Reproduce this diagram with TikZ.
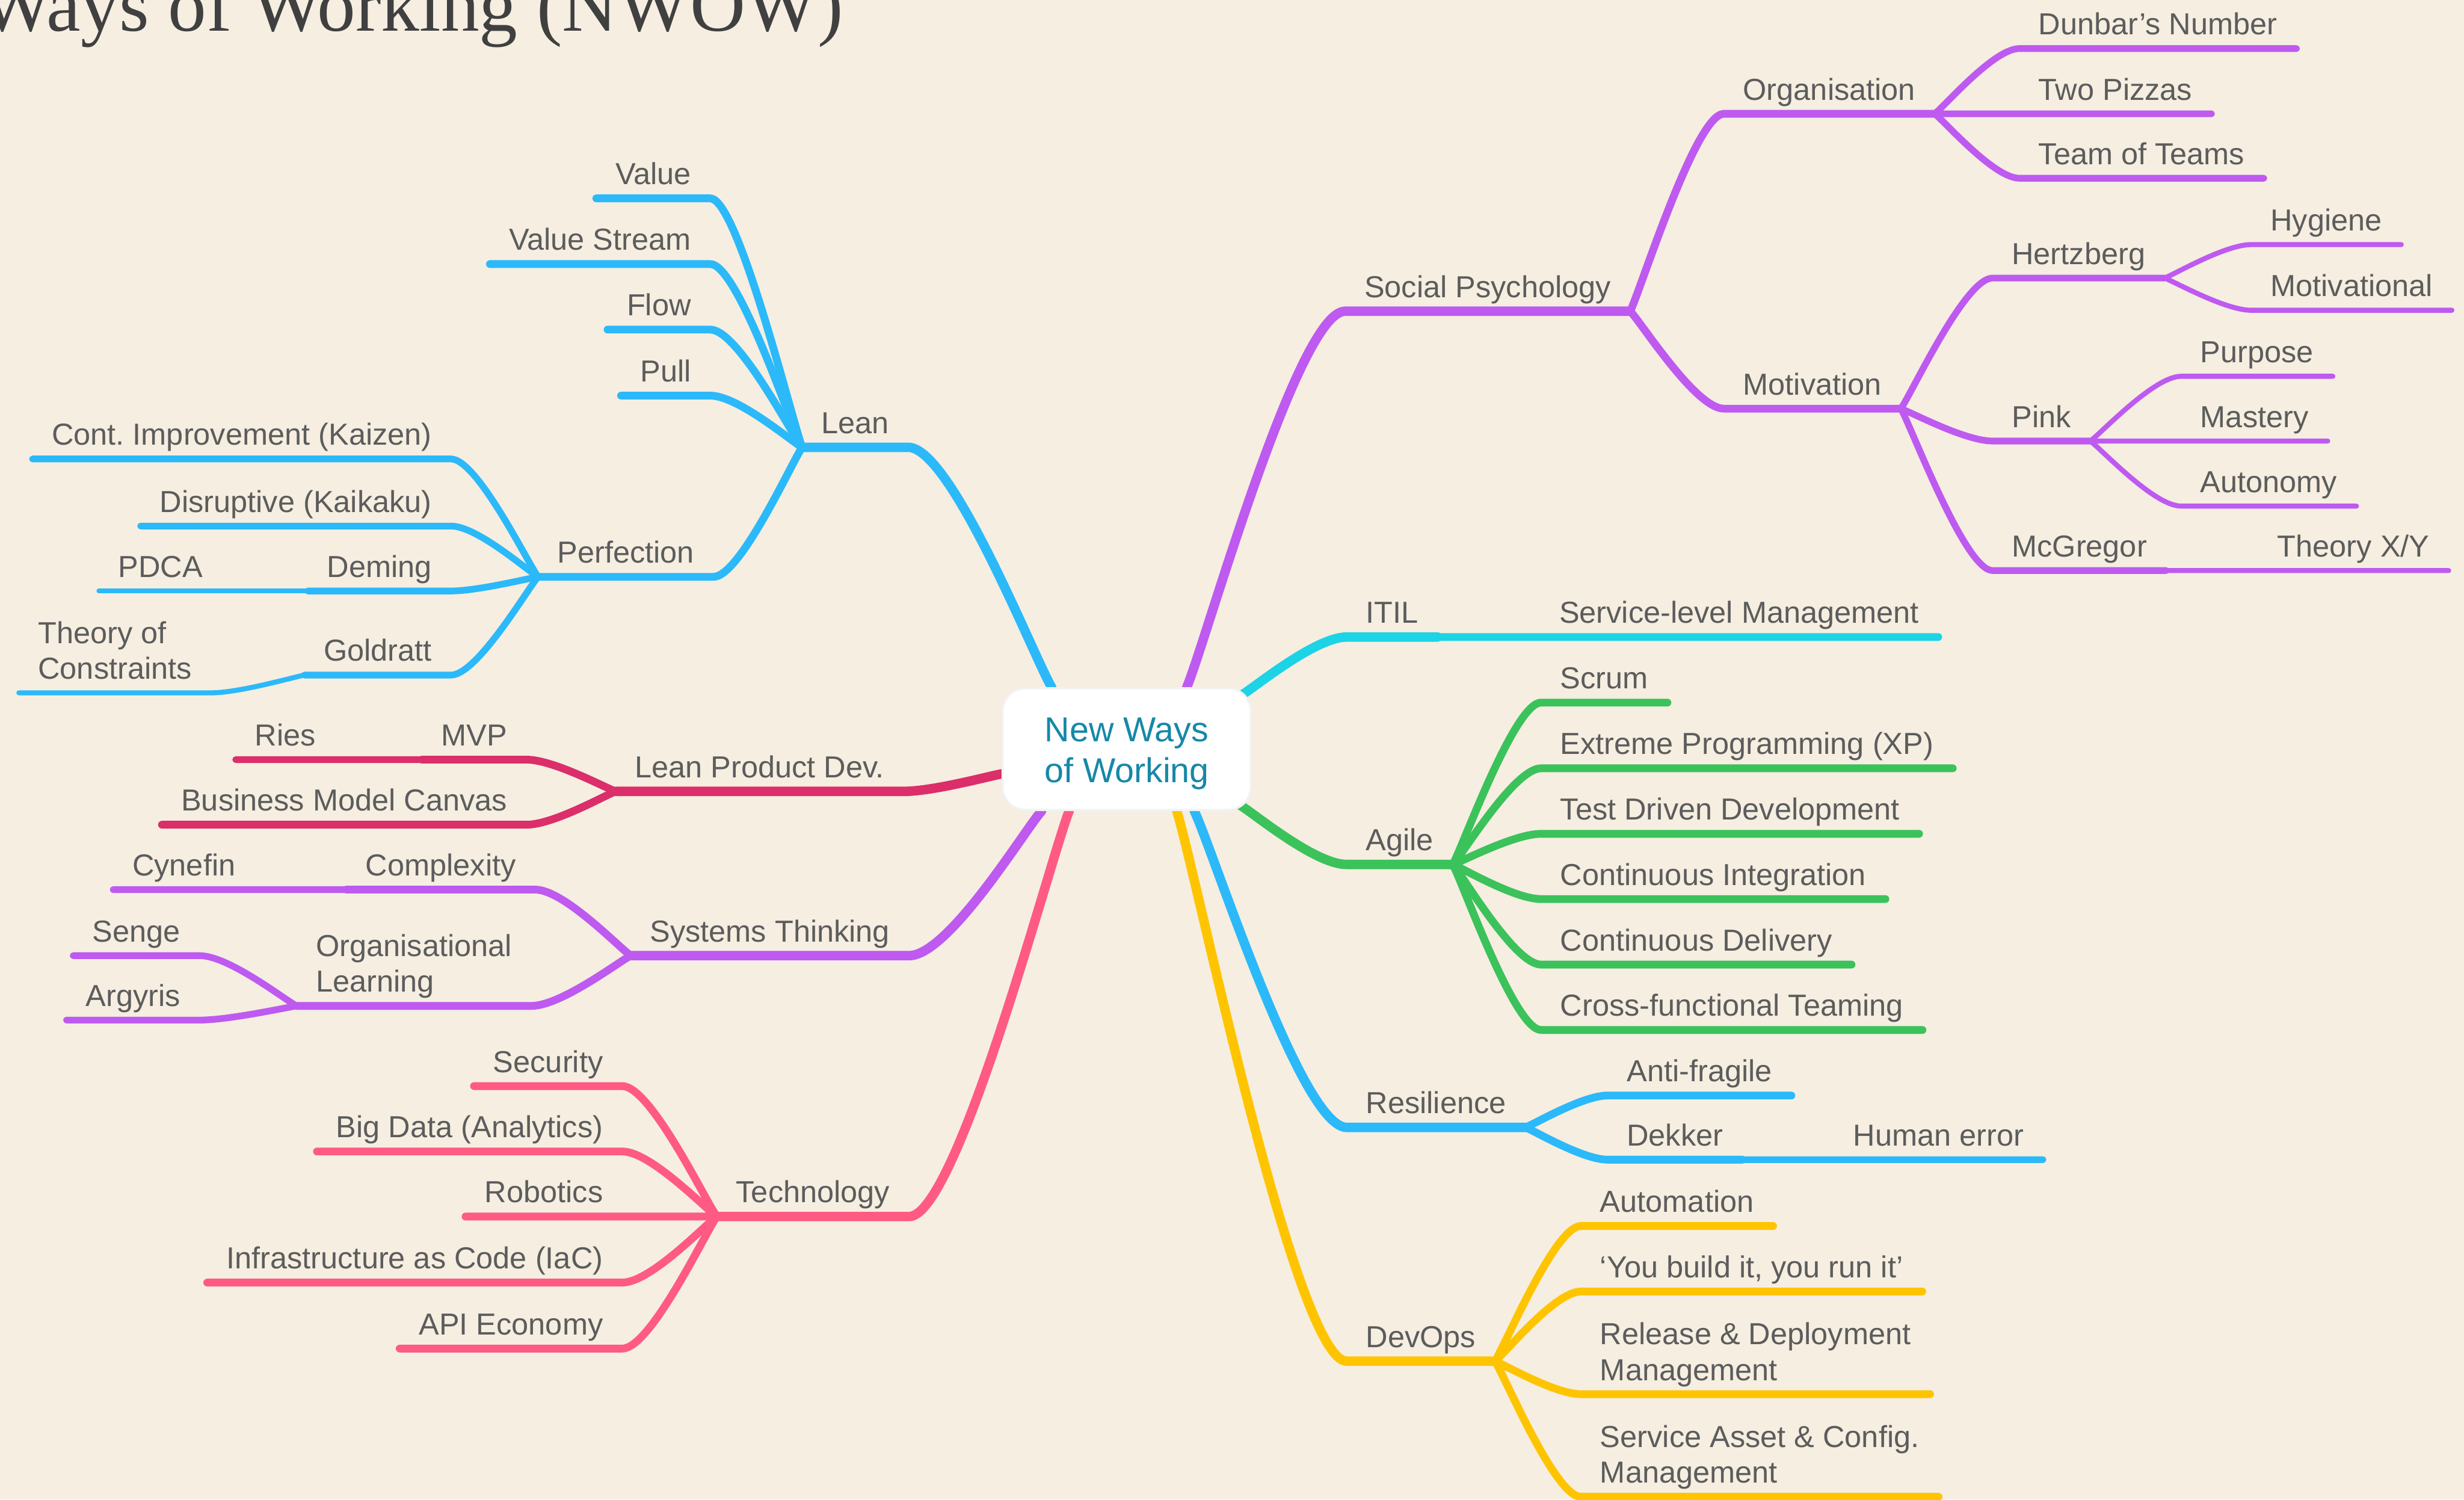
\documentclass[tikz,border=0pt]{standalone}
\usepackage{fontspec}
\usepackage{xcolor}
\usetikzlibrary{calc}

\newfontfamily\mapsans{Liberation Sans}
\newfontfamily\mapserif{Liberation Serif}
\frenchspacing

\definecolor{bgcream}{HTML}{F5EEE1}
\definecolor{txtgray}{HTML}{5C5C5C}
\definecolor{titlegray}{HTML}{404040}
\definecolor{rootteal}{HTML}{1688A8}
\definecolor{lnBlue}{HTML}{2BB9FA}
\definecolor{lnPurple}{HTML}{BE5AF0}
\definecolor{lnCyan}{HTML}{1DD3E6}
\definecolor{lnGreen}{HTML}{3BC25B}
\definecolor{lnYellow}{HTML}{FFC400}
\definecolor{lnCrimson}{HTML}{DB2E6A}
\definecolor{lnPink}{HTML}{FF5A84}

\pgfdeclarelayer{background}
\pgfsetlayers{background,main}

\tikzset{
  topic/.style={font=\mapsans\fontsize{14.5pt}{17pt}\selectfont, text=txtgray, inner xsep=9pt, inner ysep=6.4pt, text depth=0pt},
  twolines/.style={align=left},
  root/.style={rectangle, rounded corners=11pt, fill=white, draw=black!5, line width=1pt, minimum width=118.5pt, minimum height=58.1pt, align=center, text height=32.1pt, text depth=0pt, font=\mapsans\fontsize{16.5pt}{19.6pt}\selectfont, text=rootteal},
  title/.style={font=\mapserif\fontsize{36.6pt}{40pt}\selectfont, text=titlegray, inner sep=0pt},
  lw1/.style={line width=4.5pt, line cap=round, line join=round},
  lw2/.style={line width=3.7pt, line cap=round, line join=round},
  lw3/.style={line width=3.2pt, line cap=round, line join=round},
  lw4/.style={line width=2.4pt, line cap=round, line join=round},
  branch/.style={to path={.. controls ($(\tikztostart)!0.12!(\tikztotarget)$) and ($(\tikztotarget)!0.3!(\tikztostart|-\tikztotarget)$) .. (\tikztotarget) \tikztonodes}}
}

\begin{document}
\begin{tikzpicture}[x=0.75pt,y=0.75pt,yscale=-1,xscale=1]
\useasboundingbox (0,0) rectangle (1568,954);
\clip (0,0) rectangle (1568,954);

% Title
\node [title, anchor=base east] (title) at (537,19.7) {Ways of Working (NWOW)};

% Root
\node [root] (root) at (717,476.6) {New Ways\\of Working};
\coordinate (o-lean) at ($(root.north west)!0.20!(root.north east)$);
\coordinate (o-social) at ($(root.north west)!0.74!(root.north east)$);
\coordinate (o-itil) at ($(root.north east)+(-8,6)$);
\coordinate (o-agile) at ($(root.south east)+(-8,-4)$);
\coordinate (o-res) at ($(root.south west)!0.77!(root.south east)$);
\coordinate (o-devops) at ($(root.south west)!0.70!(root.south east)$);
\coordinate (o-tech) at ($(root.south west)!0.27!(root.south east)$);
\coordinate (o-systems) at ($(root.south west)!0.16!(root.south east)$);
\coordinate (o-lpd) at ($(root.north west)!0.70!(root.south west)$);

% Text Node: Lean
\node [topic, anchor=south east] (lean) at (578,284.6) {Lean};
\node [topic, anchor=south east] (value) at (452,126.2) {Value};
\node [topic, anchor=south east] (valuestream) at (452,168) {Value Stream};
\node [topic, anchor=south east] (flow) at (452,209.7) {Flow};
\node [topic, anchor=south east] (pull) at (452,251.7) {Pull};
\node [topic, anchor=south east] (perfection) at (454,367) {Perfection};
\node [topic, anchor=south east] (kaizen) at (287,292) {Cont. Improvement (Kaizen)};
\node [topic, anchor=south east] (kaikaku) at (287,334.7) {Disruptive (Kaikaku)};
\node [topic, anchor=south east] (deming) at (287,376) {Deming};
\node [topic, anchor=south west] (pdca) at (63,376) {PDCA};
\node [topic, anchor=south east] (goldratt) at (287,429.5) {Goldratt};
\node [topic, twolines, anchor=south west] (toc) at (12,440.8) {Theory of\\Constraints};

% Text Node: Lean Product Dev.
\node [topic, anchor=south east] (lpd) at (575,503.5) {Lean Product Dev.};
\node [topic, anchor=south east] (mvp) at (335,483.3) {MVP};
\node [topic, anchor=south west] (ries) at (150,483.3) {Ries};
\node [topic, anchor=south east] (bmc) at (335,524.7) {Business Model Canvas};

% Text Node: Systems Thinking
\node [topic, anchor=south east] (systems) at (578.5,608) {Systems Thinking};
\node [topic, anchor=south east] (complexity) at (340.6,566) {Complexity};
\node [topic, anchor=south west] (cynefin) at (72,566) {Cynefin};
\node [topic, twolines, anchor=south east] (orglearn) at (338,640) {Organisational\\Learning};
\node [topic, anchor=south east] (senge) at (127,608) {Senge};
\node [topic, anchor=south east] (argyris) at (127,649) {Argyris};

% Text Node: Technology
\node [topic, anchor=south east] (technology) at (578.5,774) {Technology};
\node [topic, anchor=south east] (security) at (396,691) {Security};
\node [topic, anchor=south east] (bigdata) at (396,732.6) {Big Data (Analytics)};
\node [topic, anchor=south east] (robotics) at (396,774) {Robotics};
\node [topic, anchor=south east] (iac) at (396,816) {Infrastructure as Code (IaC)};
\node [topic, anchor=south east] (api) at (396,858) {API Economy};

% Text Node: Social Psychology
\node [topic, anchor=south west] (social) at (856,198) {Social Psychology};
\node [topic, anchor=south west] (organisation) at (1097,72.4) {Organisation};
\node [topic, anchor=south west] (dunbar) at (1285,30.9) {Dunbar’s Number};
\node [topic, anchor=south west] (pizzas) at (1285,72.4) {Two Pizzas};
\node [topic, anchor=south west] (teams) at (1285,113.4) {Team of Teams};
\node [topic, anchor=south west] (motivation) at (1097,260) {Motivation};
\node [topic, anchor=south west] (hertzberg) at (1268,176.9) {Hertzberg};
\node [topic, anchor=south west] (hygiene) at (1432.6,155.6) {Hygiene};
\node [topic, anchor=south west] (motivational) at (1432.6,197.4) {Motivational};
\node [topic, anchor=south west] (pink) at (1268,280.6) {Pink};
\node [topic, anchor=south west] (purpose) at (1388,239.4) {Purpose};
\node [topic, anchor=south west] (mastery) at (1388,280.6) {Mastery};
\node [topic, anchor=south west] (autonomy) at (1388,322) {Autonomy};
\node [topic, anchor=south west] (mcgregor) at (1268,363) {McGregor};
\node [topic, anchor=south west] (theoryxy) at (1437,363) {Theory X/Y};

% Text Node: ITIL
\node [topic, anchor=south west] (itil) at (857,405.3) {ITIL};
\node [topic, anchor=south west] (slm) at (980,405.3) {Service-level Management};

% Text Node: Agile
\node [topic, anchor=south west] (agile) at (857,550) {Agile};
\node [topic, anchor=south west] (scrum) at (980.7,447) {Scrum};
\node [topic, anchor=south west] (xp) at (980.7,488.8) {Extreme Programming (XP)};
\node [topic, anchor=south west] (tdd) at (980.7,530.5) {Test Driven Development};
\node [topic, anchor=south west] (ci) at (980.7,572) {Continuous Integration};
\node [topic, anchor=south west] (cd) at (980.7,613.7) {Continuous Delivery};
\node [topic, anchor=south west] (cft) at (980.7,655.3) {Cross-functional Teaming};

% Text Node: Resilience
\node [topic, anchor=south west] (resilience) at (857,717.3) {Resilience};
\node [topic, anchor=south west] (antifragile) at (1023,697) {Anti-fragile};
\node [topic, anchor=south west] (dekker) at (1023,737.8) {Dekker};
\node [topic, anchor=south west] (humanerror) at (1167,737.8) {Human error};

% Text Node: DevOps
\node [topic, anchor=south west] (devops) at (857,866) {DevOps};
\node [topic, anchor=south west] (automation) at (1006,780) {Automation};
\node [topic, anchor=south west] (ybiyri) at (1006,821.7) {‘You build it, you run it’};
\node [topic, twolines, anchor=south west] (reldep) at (1006,887) {Release \& Deployment\\Management};
\node [topic, twolines, anchor=south west] (sacm) at (1006,952.3) {Service Asset \& Config.\\Management};

\begin{pgfonlayer}{background}
\clip (0,0) rectangle (1568,954);
\fill [bgcream] (0,0) rectangle (1568,954);

%Curve Lines: Lean
\draw [lnBlue, lw1] (o-lean) to[branch] (lean.south east) -- (lean.south west);
\draw [lnBlue, lw2] (lean.south west) to[branch] (value.south east) -- (value.south west);
\draw [lnBlue, lw2] (lean.south west) to[branch] (valuestream.south east) -- (valuestream.south west);
\draw [lnBlue, lw2] (lean.south west) to[branch] (flow.south east) -- (flow.south west);
\draw [lnBlue, lw2] (lean.south west) to[branch] (pull.south east) -- (pull.south west);
\draw [lnBlue, lw2] (lean.south west) to[branch] (perfection.south east) -- (perfection.south west);
\draw [lnBlue, lw3] (perfection.south west) to[branch] (kaizen.south east) -- (kaizen.south west);
\draw [lnBlue, lw3] (perfection.south west) to[branch] (kaikaku.south east) -- (kaikaku.south west);
\draw [lnBlue, lw3] (perfection.south west) to[branch] (deming.south east) -- (deming.south west);
\draw [lnBlue, lw3] (perfection.south west) to[branch] (goldratt.south east) -- (goldratt.south west);
\draw [lnBlue, lw4] (deming.south west) to[branch] (pdca.south east) -- (pdca.south west);
\draw [lnBlue, lw4] (goldratt.south west) to[branch] (toc.south east) -- (toc.south west);

%Curve Lines: Lean Product Dev.
\draw [lnCrimson, lw1] (o-lpd) to[branch] (lpd.south east) -- (lpd.south west);
\draw [lnCrimson, lw2] (lpd.south west) to[branch] (mvp.south east) -- (mvp.south west);
\draw [lnCrimson, lw2] (lpd.south west) to[branch] (bmc.south east) -- (bmc.south west);
\draw [lnCrimson, lw3] (mvp.south west) to[branch] (ries.south east) -- (ries.south west);

%Curve Lines: Systems Thinking
\draw [lnPurple, lw1] (o-systems) to[branch] (systems.south east) -- (systems.south west);
\draw [lnPurple, lw2] (systems.south west) to[branch] (complexity.south east) -- (complexity.south west);
\draw [lnPurple, lw2] (systems.south west) to[branch] (orglearn.south east) -- (orglearn.south west);
\draw [lnPurple, lw3] (complexity.south west) to[branch] (cynefin.south east) -- (cynefin.south west);
\draw [lnPurple, lw3] (orglearn.south west) to[branch] (senge.south east) -- (senge.south west);
\draw [lnPurple, lw3] (orglearn.south west) to[branch] (argyris.south east) -- (argyris.south west);

%Curve Lines: Technology
\draw [lnPink, lw1] (o-tech) to[branch] (technology.south east) -- (technology.south west);
\draw [lnPink, lw2] (technology.south west) to[branch] (security.south east) -- (security.south west);
\draw [lnPink, lw2] (technology.south west) to[branch] (bigdata.south east) -- (bigdata.south west);
\draw [lnPink, lw2] (technology.south west) to[branch] (robotics.south east) -- (robotics.south west);
\draw [lnPink, lw2] (technology.south west) to[branch] (iac.south east) -- (iac.south west);
\draw [lnPink, lw2] (technology.south west) to[branch] (api.south east) -- (api.south west);

%Curve Lines: Social Psychology
\draw [lnPurple, lw1] (o-social) to[branch] (social.south west) -- (social.south east);
\draw [lnPurple, lw2] (social.south east) to[branch] (organisation.south west) -- (organisation.south east);
\draw [lnPurple, lw2] (social.south east) to[branch] (motivation.south west) -- (motivation.south east);
\draw [lnPurple, lw3] (organisation.south east) to[branch] (dunbar.south west) -- (dunbar.south east);
\draw [lnPurple, lw3] (organisation.south east) to[branch] (pizzas.south west) -- (pizzas.south east);
\draw [lnPurple, lw3] (organisation.south east) to[branch] (teams.south west) -- (teams.south east);
\draw [lnPurple, lw3] (motivation.south east) to[branch] (hertzberg.south west) -- (hertzberg.south east);
\draw [lnPurple, lw3] (motivation.south east) to[branch] (pink.south west) -- (pink.south east);
\draw [lnPurple, lw3] (motivation.south east) to[branch] (mcgregor.south west) -- (mcgregor.south east);
\draw [lnPurple, lw4] (hertzberg.south east) to[branch] (hygiene.south west) -- (hygiene.south east);
\draw [lnPurple, lw4] (hertzberg.south east) to[branch] (motivational.south west) -- (motivational.south east);
\draw [lnPurple, lw4] (pink.south east) to[branch] (purpose.south west) -- (purpose.south east);
\draw [lnPurple, lw4] (pink.south east) to[branch] (mastery.south west) -- (mastery.south east);
\draw [lnPurple, lw4] (pink.south east) to[branch] (autonomy.south west) -- (autonomy.south east);
\draw [lnPurple, lw4] (mcgregor.south east) to[branch] (theoryxy.south west) -- (theoryxy.south east);

%Curve Lines: ITIL
\draw [lnCyan, lw1] (o-itil) to[branch] (itil.south west) -- (itil.south east);
\draw [lnCyan, lw2] (itil.south east) to[branch] (slm.south west) -- (slm.south east);

%Curve Lines: Agile
\draw [lnGreen, lw1] (o-agile) to[branch] (agile.south west) -- (agile.south east);
\draw [lnGreen, lw2] (agile.south east) to[branch] (scrum.south west) -- (scrum.south east);
\draw [lnGreen, lw2] (agile.south east) to[branch] (xp.south west) -- (xp.south east);
\draw [lnGreen, lw2] (agile.south east) to[branch] (tdd.south west) -- (tdd.south east);
\draw [lnGreen, lw2] (agile.south east) to[branch] (ci.south west) -- (ci.south east);
\draw [lnGreen, lw2] (agile.south east) to[branch] (cd.south west) -- (cd.south east);
\draw [lnGreen, lw2] (agile.south east) to[branch] (cft.south west) -- (cft.south east);

%Curve Lines: Resilience
\draw [lnBlue, lw1] (o-res) to[branch] (resilience.south west) -- (resilience.south east);
\draw [lnBlue, lw2] (resilience.south east) to[branch] (antifragile.south west) -- (antifragile.south east);
\draw [lnBlue, lw2] (resilience.south east) to[branch] (dekker.south west) -- (dekker.south east);
\draw [lnBlue, lw3] (dekker.south east) to[branch] (humanerror.south west) -- (humanerror.south east);

%Curve Lines: DevOps
\draw [lnYellow, lw1] (o-devops) to[branch] (devops.south west) -- (devops.south east);
\draw [lnYellow, lw2] (devops.south east) to[branch] (automation.south west) -- (automation.south east);
\draw [lnYellow, lw2] (devops.south east) to[branch] (ybiyri.south west) -- (ybiyri.south east);
\draw [lnYellow, lw2] (devops.south east) to[branch] (reldep.south west) -- (reldep.south east);
\draw [lnYellow, lw2] (devops.south east) to[branch] (sacm.south west) -- (sacm.south east);
\end{pgfonlayer}
\end{tikzpicture}
\end{document}
